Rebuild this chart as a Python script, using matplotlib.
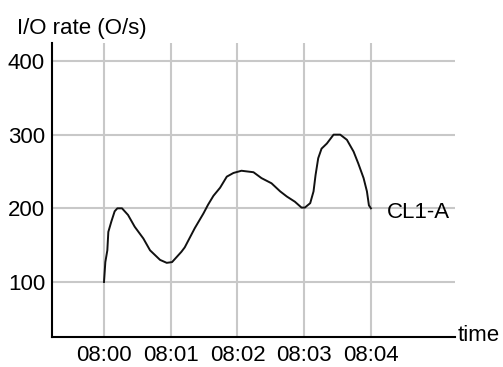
import matplotlib
matplotlib.use("Agg")
import matplotlib.pyplot as plt

# I/O rate samples for CL1-A (minutes after 08:00, ops/s)
t = [0.00, 0.02, 0.05, 0.065, 0.11, 0.16, 0.20, 0.27, 0.36, 0.46, 0.59,
     0.69, 0.84, 0.94, 1.02, 1.16, 1.21, 1.36, 1.49, 1.56, 1.64, 1.74,
     1.84, 1.94, 2.06, 2.24, 2.36, 2.51, 2.64, 2.74, 2.86, 2.96, 3.01,
     3.09, 3.14, 3.17, 3.21, 3.26, 3.34, 3.44, 3.54, 3.64, 3.74, 3.81,
     3.89, 3.94, 3.97, 4.00]
rate = [100, 127, 143, 168, 182, 196, 200, 200, 191, 175, 159,
        143, 130, 126, 127, 141, 147, 173, 193, 205, 217, 228,
        243, 248, 251, 249, 241, 234, 223, 216, 209, 201, 201,
        207, 223, 245, 268, 281, 288, 300, 300, 293, 277, 261,
        241, 223, 204, 200]

xticks = [0, 1, 2, 3, 4]
xlabels = ["08:00", "08:01", "08:02", "08:03", "08:04"]
yticks = [100, 200, 300, 400]
series_name = "CL1-A"

plt.rcParams['font.family'] = ['Liberation Sans', 'DejaVu Sans']

fig = plt.figure(figsize=(5.03, 3.67), dpi=100)
ax = fig.add_axes([0.1034, 0.0817, 0.8012, 0.8011])

ax.plot(t, rate, color='#111111', linewidth=1.4)

ax.set_xlim(-0.779, 5.26)
ax.set_ylim(25.3, 424.4)
ax.set_xticks(xticks)
ax.set_xticklabels(xlabels)
ax.set_yticks(yticks)
ax.grid(True, color='#c8c8c8', linewidth=1.5)
ax.set_axisbelow(True)
ax.tick_params(length=0, labelsize=16, pad=5, colors='black')
ax.tick_params(axis='x', pad=6)

for s in ['top', 'right']:
    ax.spines[s].set_visible(False)
for s in ['left', 'bottom']:
    ax.spines[s].set_linewidth(1.5)
    ax.spines[s].set_color('black')

ax.text(4.24, 194, series_name, fontsize=16, va='center', ha='left')
fig.text(0.9105, 0.0845, "time", fontsize=16, va='center', ha='left')
fig.text(0.0338, 0.9237, "I/O rate (O/s)", fontsize=16, va='center', ha='left')

fig.savefig("out.png", dpi=100)
